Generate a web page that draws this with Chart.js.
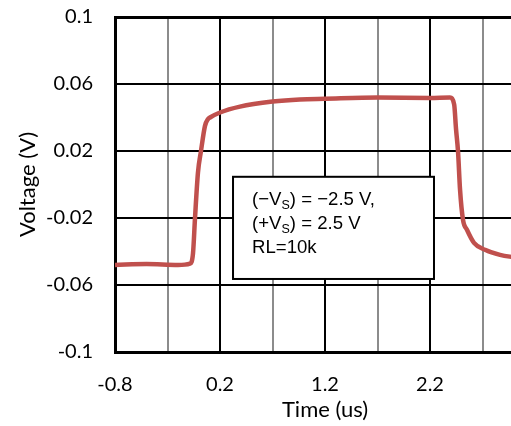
<!DOCTYPE html>
<html>
<head>
<meta charset="utf-8">
<script src="https://cdn.jsdelivr.net/npm/chart.js@4/dist/chart.umd.min.js"></script>
<style>
  html, body { margin: 0; padding: 0; background: #fff; overflow: hidden; }
  #wrap { width: 545px; height: 426px; }
</style>
</head>
<body>
<div id="wrap"><canvas id="chart" width="545" height="426"></canvas></div>
<script>
// step response trace
const timeUs = [-0.8, -0.5, -0.2, -0.086, -0.057, -0.038, -0.01, 0.019, 0.057, 0.085, 0.105, 0.2, 0.39, 0.7, 0.96, 1.2, 1.7, 2.2, 2.39, 2.43, 2.448, 2.467, 2.486, 2.514, 2.552, 2.619, 2.724, 2.867, 3.2];
const voltageV = [-0.048, -0.0475, -0.048, -0.0472, -0.041, -0.020, 0.007, 0.020, 0.035, 0.039, 0.040, 0.043, 0.0465, 0.0495, 0.0508, 0.0512, 0.0519, 0.0517, 0.052, 0.0478, 0.033, 0.0196, -0.003, -0.021, -0.027, -0.0348, -0.039, -0.042, -0.045];

const xTitle = 'Time (us)';
const yTitle = 'Voltage (V)';
const noteLines = [
  ['(\u2212V', 'S', ') = \u22122.5 V,'],
  ['(+V', 'S', ') = 2.5 V'],
  ['RL=10k', '', '']
];

const tickFont = { family: 'Lato', size: 20 };
const titleFont = { family: 'Lato', size: 22 };

var points = [];
for (let i = 0; i < timeUs.length; i++) {
  points.push({ x: timeUs[i], y: voltageV[i] });
}

// scales must not push the plot area around
var noPad = function(s) {
  s.paddingTop = 0; s.paddingBottom = 0; s.paddingLeft = 0; s.paddingRight = 0;
};

var notePlugin = {
  id: 'note',
  afterDatasetsDraw(chart) {
    const ctx = chart.ctx;
    const xs = chart.scales.x, ys = chart.scales.y;
    const left = xs.getPixelForValue(0.324), right = xs.getPixelForValue(2.238);
    const top = ys.getPixelForValue(0.0046), bottom = ys.getPixelForValue(-0.0564);
    ctx.save();
    ctx.fillStyle = '#fff';
    ctx.fillRect(left, top, right - left, bottom - top);
    ctx.strokeStyle = '#000';
    ctx.lineWidth = 2;
    ctx.strokeRect(left, top, right - left, bottom - top);
    ctx.fillStyle = '#000';
    ctx.textBaseline = 'alphabetic';
    let base = top + 28;
    for (let i = 0; i < noteLines.length; i++) {
      let x = left + 19;
      const [a, sub, b] = noteLines[i];
      ctx.font = '18.6px "Liberation Sans", Arial, sans-serif';
      ctx.fillText(a, x, base);
      x += ctx.measureText(a).width;
      if (sub) {
        ctx.font = '12.5px "Liberation Sans", Arial, sans-serif';
        ctx.fillText(sub, x, base + 4);
        x += ctx.measureText(sub).width;
        ctx.font = '18.6px "Liberation Sans", Arial, sans-serif';
        ctx.fillText(b, x, base);
      }
      base += 24;
    }
    ctx.restore();
  }
};

new Chart(document.getElementById('chart').getContext('2d'), {
  type: 'scatter',
  data: {
    datasets: [{
      data: points,
      showLine: true,
      borderColor: '#C0504D',
      borderWidth: 4.5,
      pointRadius: 0,
      cubicInterpolationMode: 'monotone'
    }]
  },
  options: {
    responsive: false,
    animation: false,
    events: [],
    layout: { padding: { top: 17, right: 10, left: 0, bottom: 0 } },
    plugins: { legend: { display: false }, tooltip: { enabled: false } },
    scales: {
      x: {
        type: 'linear',
        min: -0.8,
        max: 3.2,
        afterFit: s => { s.height = 74; noPad(s); },
        ticks: {
          stepSize: 0.5,
          autoSkip: false,
          maxRotation: 0,
          padding: 21,
          color: '#000',
          font: tickFont,
          callback: (v, i) => (i % 2 === 0 && v < 3) ? v.toFixed(1) : ''
        },
        grid: {
          drawTicks: false,
          color: ctx => ctx.index % 2 === 0 ? '#000' : '#8c8c8c',
          lineWidth: ctx => ctx.index === 0 ? 3 : 2
        },
        border: { display: true, color: '#000', width: 3 },
        title: { display: true, text: xTitle, color: '#000', font: titleFont, padding: { top: 0, bottom: 3 } }
      },
      y: {
        min: -0.1,
        max: 0.1,
        afterFit: s => { s.width = 115; noPad(s); },
        ticks: {
          stepSize: 0.04,
          padding: 22,
          color: '#000',
          font: tickFont,
          callback: v => String(parseFloat(v.toFixed(2)))
        },
        grid: {
          drawTicks: false,
          color: '#000',
          lineWidth: ctx => (ctx.index === 0 || ctx.index === 5) ? 3 : 2
        },
        border: { display: true, color: '#000', width: 3 },
        title: { display: true, text: yTitle, color: '#000', font: titleFont, padding: { top: 15, bottom: 0 } }
      }
    }
  },
  plugins: [notePlugin]
});
</script>
</body>
</html>
